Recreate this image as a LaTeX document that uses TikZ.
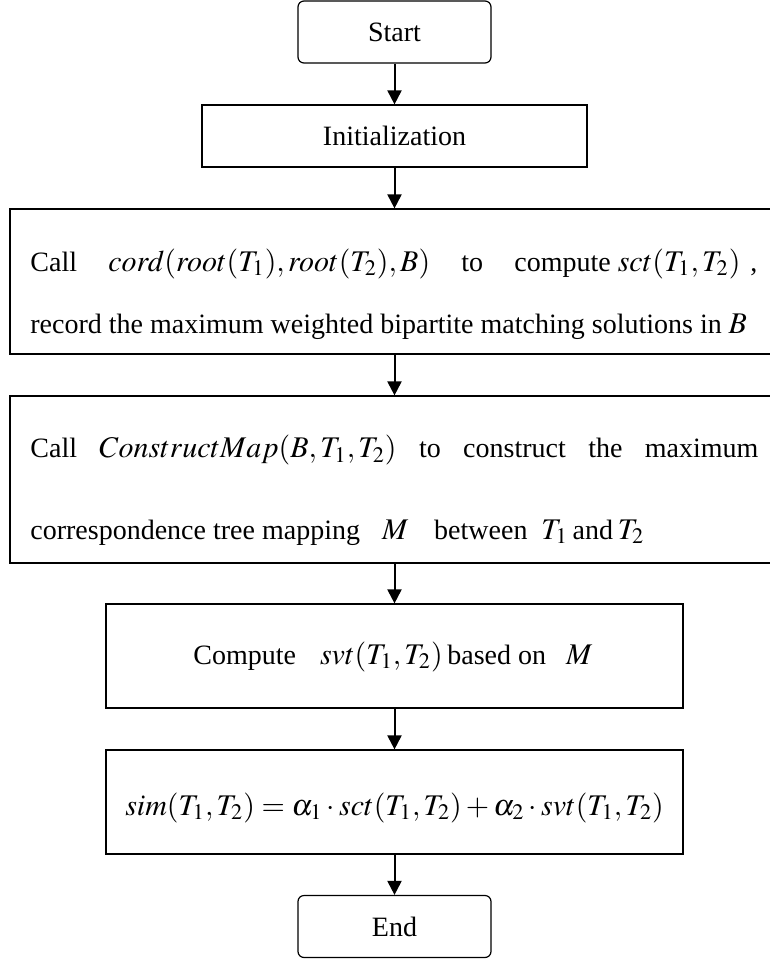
\documentclass[tikz,border=0pt]{standalone}
\usepackage{mathptmx}
\usepackage[no-math]{fontspec}
\setmainfont{Liberation Serif}
\usetikzlibrary{arrows.meta}
\newcommand\fm[1]{{\fontsize{15}{18}\selectfont$#1$}}

\begin{document}
\begin{tikzpicture}[x=0.5pt,y=-0.5pt,
   font=\fontsize{14}{17}\selectfont,
   box/.style={draw,line width=0.6pt,inner sep=0pt},
   term/.style={box,rounded corners=3pt,minimum width=96.5pt,minimum height=31pt},
   txt/.style={anchor=base west,inner sep=0pt},
   flow/.style={line width=1pt,-{Triangle[length=7pt,width=7pt]}}]
   \useasboundingbox (0,0) rectangle (770,959);

   \node[term] (start) at (394.5,32) {Start};
   \node[box,minimum width=192.5pt,minimum height=31pt] (init) at (394.5,136) {Initialization};
   \node[box,minimum width=384.5pt,minimum height=72.5pt] (cord) at (394.5,281.5) {};
   \node[box,minimum width=384.5pt,minimum height=83.5pt] (cmap) at (394.5,479.5) {};
   \node[box,minimum width=288.5pt,minimum height=52pt] (svt) at (394.5,656) {};
   \node[box,minimum width=288.5pt,minimum height=52pt] (sim) at (394.5,802) {};
   \node[term] (end) at (394.5,926.5) {End};

   \node[txt] (cordA) at (30,271) {\hbox to 363.5pt{Call\hfill\fm{cord(root(T_1),root(T_2),B)}\hfill to\hfill compute \fm{sct(T_1,T_2)}\hspace{5pt},}};
   \node[txt] (cordB) at (30,333) {record the maximum weighted bipartite matching solutions in \fm{B}};
   \node[txt] (cmapA) at (30,457.5) {\hbox to 364pt{Call\hfill\fm{ConstructMap(B,T_1,T_2)}\hfill to\hfill construct\hfill the\hfill maximum}};
   \node[txt] (cmapB) at (30,539) {correspondence tree mapping\hspace{11pt}\fm{M}\hspace{13pt}between\hspace{7pt}\fm{T_1}\,and\,\fm{T_2}};
   \node[txt] (svtA) at (193,664) {Compute\hspace{12pt}\fm{svt(T_1,T_2)}\,based on\hspace{10pt}\fm{M}};
   \node[anchor=base,inner sep=0pt] (simA) at (394.5,815) {\fm{sim(T_1,T_2)=\alpha_1\cdot sct(T_1,T_2)+\alpha_2\cdot svt(T_1,T_2)}};

   \draw[flow] (start) -- (init);
   \draw[flow] (init) -- (cord);
   \draw[flow] (cord) -- (cmap);
   \draw[flow] (cmap) -- (svt);
   \draw[flow] (svt) -- (sim);
   \draw[flow] (sim) -- (end);
\end{tikzpicture}
\end{document}
